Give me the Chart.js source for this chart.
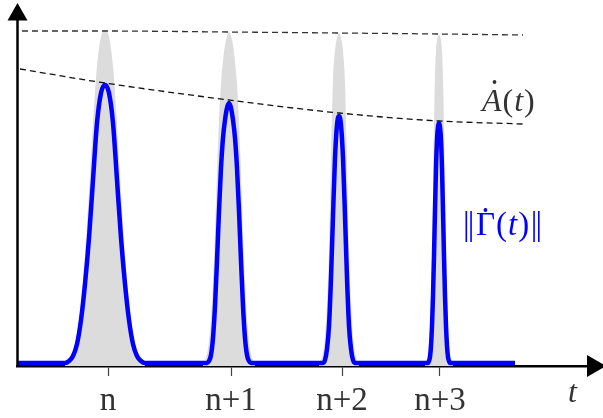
<!DOCTYPE html>
<html><head><meta charset="utf-8">
<script src="https://cdn.jsdelivr.net/npm/chart.js@4/dist/chart.umd.min.js"></script>
<style>html,body{margin:0;padding:0;background:#fff;}#wrap{width:603px;height:418px;position:relative;}</style>
</head><body><div id="wrap"><canvas id="c" width="603" height="418"></canvas></div>
<script>
// ---- data (x: time axis units, y: amplitude units) ----
const tickPositions = [91, 214, 325, 423];
const tickLabels = ['n', 'n+1', 'n+2', 'n+3'];
const peakCenters = [88, 212, 322, 422];
const blueStart = 1, blueEnd = 498, baseLevel = 3;
// ||Gamma-dot(t)|| half-profiles: [offset from peak centre, value]
const blueProfile1 = [[0,281],[4,273],[8,243],[12,186],[16,128],[20,82],[24,46],[28,22],[32,10],[36,5],[40,3]];
const blueProfile2 = [[0,263],[2,258],[4,246],[6,228],[8,198],[10,155],[12,105],[14,60],[16,28],[18,11],[20,5],[22,3]];
const blueProfile3 = [[0,250],[2,241],[4,208],[6,150],[8,88],[10,40],[12,17],[14,6],[16,3]];
const blueProfile4 = [[0,243],[1,239],[2,226],[3,198],[4,155],[5,110],[6,70],[7,40],[8,20],[9,9],[10,5],[11,3]];
// grey pulses: half-profiles
const greyProfile1 = [[0,336],[4,329],[8,300],[12,243],[16,174],[20,112],[24,64],[28,32],[32,14],[36,6],[40,3]];
const greyProfile2 = [[0,334],[2,330],[4,321],[6,305],[8,282],[10,245],[12,192],[14,134],[16,84],[18,48],[20,25],[22,12],[24,6],[26,3]];
const greyProfile3 = [[0,333],[2,328],[4,315],[6,285],[8,205],[10,115],[12,62],[14,30],[16,13],[18,6],[20,3]];
const greyProfile4 = [[0,331],[1,330],[2,326],[3,315],[4,290],[5,240],[6,175],[7,115],[8,70],[9,40],[10,22],[12,8],[14,3]];
// envelopes
const upperEnvelope = [[5,335],[88,335],[212,334],[322,333],[422,332],[506,331]];
const lowerEnvelope = [[3,297],[88,283],[212,266],[322,253],[422,245],[506,242]];

const blueProfiles = [blueProfile1, blueProfile2, blueProfile3, blueProfile4];
const greyProfiles = [greyProfile1, greyProfile2, greyProfile3, greyProfile4];

function mirrored(center, prof) {
  const pts = [];
  for (let i = prof.length - 1; i > 0; i--) pts.push({x: center - prof[i][0], y: prof[i][1]});
  for (let i = 0; i < prof.length; i++) pts.push({x: center + prof[i][0], y: prof[i][1]});
  return pts;
}
const blueData = [{x: blueStart, y: baseLevel}];
peakCenters.forEach((c, i) => blueData.push(...mirrored(c, blueProfiles[i])));
blueData.push({x: blueEnd, y: baseLevel});
const greyData = [];
peakCenters.forEach((c, i) => { greyData.push(...mirrored(c, greyProfiles[i])); greyData.push({x: c + 45, y: null}); });
const toXY = a => a.map(p => ({x: p[0], y: p[1]}));

const SERIF = "'Liberation Serif', 'DejaVu Serif', serif";

function drawRuns(ctx, x, y, runs, size, color) {
  ctx.save();
  ctx.fillStyle = color;
  ctx.textBaseline = 'alphabetic';
  ctx.textAlign = 'left';
  const pos = [];
  for (const r of runs) {
    ctx.font = (r.it ? 'italic ' : '') + size + 'px ' + SERIF;
    const w = ctx.measureText(r.t).width;
    ctx.fillText(r.t, x, y);
    pos.push({x, w});
    x += (r.adv !== undefined ? r.adv : w) + (r.gap || 0);
  }
  ctx.restore();
  return pos;
}
function dot(ctx, x, y, color) {
  ctx.save(); ctx.fillStyle = color; ctx.beginPath(); ctx.arc(x, y, 1.9, 0, Math.PI * 2); ctx.fill(); ctx.restore();
}

const decor = {
  id: 'decor',
  afterDatasetsDraw(chart) {
    const ctx = chart.ctx, xs = chart.scales.x, ys = chart.scales.y;
    const x0 = xs.getPixelForValue(0) + 0.5, yb = ys.getPixelForValue(0);
    ctx.save();
    ctx.strokeStyle = '#000'; ctx.fillStyle = '#000'; ctx.lineWidth = 2.5;
    ctx.beginPath(); ctx.moveTo(x0, yb + 1); ctx.lineTo(x0, 18); ctx.stroke();
    ctx.beginPath(); ctx.moveTo(x0, 3); ctx.lineTo(x0 - 10, 20.5); ctx.lineTo(x0 + 10, 20.5); ctx.closePath(); ctx.fill();
    ctx.beginPath(); ctx.moveTo(606, yb); ctx.lineTo(587, yb - 11); ctx.lineTo(587, yb + 11); ctx.closePath(); ctx.fill();
    ctx.restore();
    // axis label t
    drawRuns(ctx, xs.getPixelForValue(551), yb + 36, [{t: 't', it: true}], 32, '#333');
    // A-dot(t)
    const ax = xs.getPixelForValue(465), ay = ys.getPixelForValue(255);
    const pa = drawRuns(ctx, ax, ay, [{t: 'A', it: true, gap: 1}, {t: '(', gap: 1}, {t: 't', it: true, gap: 1}, {t: ')'}], 32, '#333');
    dot(ctx, pa[0].x + pa[0].w * 0.64, ay - 29, '#333');
    // ||Gamma-dot(t)||
    const gx = xs.getPixelForValue(446), gy = ys.getPixelForValue(131);
    const pg = drawRuns(ctx, gx, gy, [{t: '|', adv: 4.8}, {t: '|', gap: 1.5}, {t: 'Γ', gap: 1}, {t: '(', gap: 1}, {t: 't', it: true, gap: 1}, {t: ')', gap: 1.5}, {t: '|', adv: 4.8}, {t: '|'}], 33, '#0000ff');
    dot(ctx, pg[2].x + pg[2].w * 0.5, gy - 25, '#0000ff');
  }
};

new Chart(document.getElementById('c'), {
  type: 'line',
  data: {
    datasets: [
      {data: blueData, borderColor: '#0000ff', borderWidth: 4.5, pointRadius: 0, fill: false, cubicInterpolationMode: 'monotone', order: 0},
      {data: toXY(upperEnvelope), borderColor: '#333', borderWidth: 1.3, borderDash: [6, 4], pointRadius: 0, fill: false, cubicInterpolationMode: 'monotone', order: 1},
      {data: toXY(lowerEnvelope), borderColor: '#111', borderWidth: 1.3, borderDash: [6, 4], pointRadius: 0, fill: false, cubicInterpolationMode: 'monotone', order: 1},
      {data: greyData, borderWidth: 0, borderColor: 'rgba(0,0,0,0)', backgroundColor: '#dcdcdc', pointRadius: 0, fill: 'origin', spanGaps: false, cubicInterpolationMode: 'monotone', order: 2}
    ]
  },
  options: {
    responsive: false, animation: false, devicePixelRatio: 1,
    layout: {padding: {left: 17, right: 13, top: 5, bottom: 0}},
    plugins: {legend: {display: false}, tooltip: {enabled: false}},
    scales: {
      x: {
        type: 'linear', min: 0, max: 573, position: 'bottom',
        afterBuildTicks(scale) { scale.ticks = tickPositions.map(v => ({value: v})); },
        afterFit(scale) { scale.height = 52; },
        grid: {display: true, drawOnChartArea: false, drawTicks: true, tickLength: 10, tickColor: '#444', tickWidth: 1.2, color: '#444'},
        border: {display: true, color: '#000', width: 2.5},
        ticks: {
          autoSkip: false, maxRotation: 0, padding: 6, color: '#333',
          font: {family: SERIF, size: 33},
          callback(v) { const i = tickPositions.indexOf(v); return i >= 0 ? tickLabels[i] : ''; }
        }
      },
      y: {type: 'linear', min: 0, max: 361, display: false}
    }
  },
  plugins: [decor]
});
</script></body></html>
